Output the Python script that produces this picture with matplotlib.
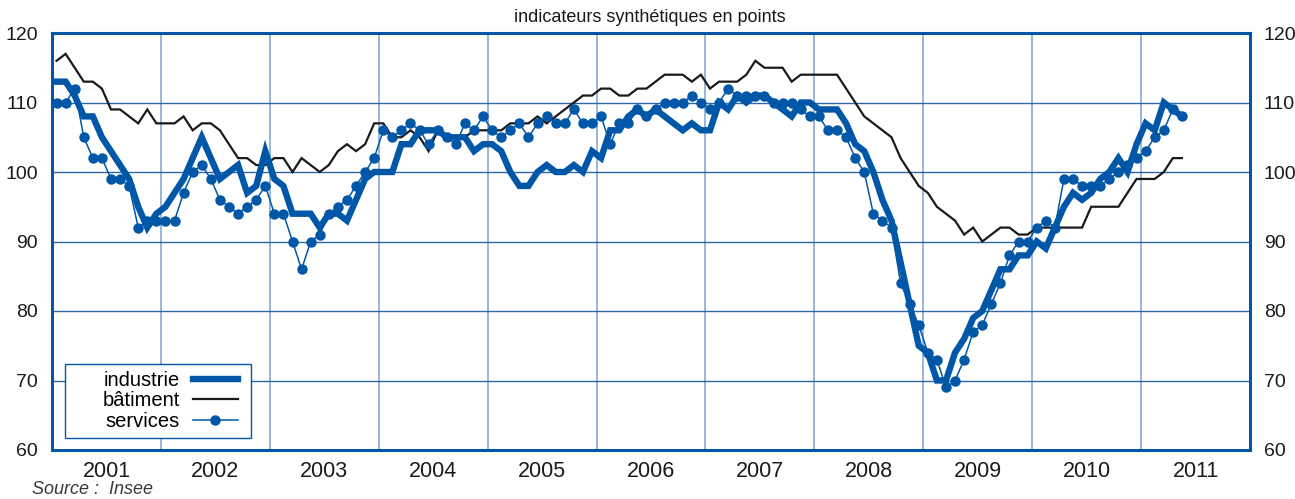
import matplotlib
matplotlib.use("Agg")
import matplotlib.pyplot as plt
import numpy as np
from matplotlib.lines import Line2D
from matplotlib.patches import Rectangle

# ---- data (monthly, Jan 2001 .. May 2011) ----
years = ["2001", "2002", "2003", "2004", "2005", "2006", "2007", "2008", "2009", "2010", "2011"]
y_ticks = [60, 70, 80, 90, 100, 110, 120]

industrie = [113, 113, 111, 108, 108, 105, 103, 101, 99, 95, 92, 94,
             95, 97, 99, 102, 105, 102, 99, 100, 101, 97, 98, 103,
             99, 98, 94, 94, 94, 92, 94, 94, 93, 96, 99, 100,
             100, 100, 104, 104, 106, 106, 106, 105, 105, 105, 103, 104,
             104, 103, 100, 98, 98, 100, 101, 100, 100, 101, 100, 103,
             102, 106, 106, 108, 109, 108, 109, 108, 107, 106, 107, 106,
             106, 110, 109, 111, 110, 111, 111, 110, 109, 108, 110, 110,
             109, 109, 109, 107, 104, 103, 100, 96, 93, 87, 81, 75,
             74, 70, 70, 74, 76, 79, 80, 83, 86, 86, 88, 88,
             90, 89, 92, 95, 97, 96, 97, 99, 100, 102, 100, 104,
             107, 106, 110, 109, 108]

batiment = [116, 117, 115, 113, 113, 112, 109, 109, 108, 107, 109, 107,
            107, 107, 108, 106, 107, 107, 106, 104, 102, 102, 101, 101,
            102, 102, 100, 102, 101, 100, 101, 103, 104, 103, 104, 107,
            107, 105, 105, 106, 105, 103, 106, 105, 105, 105, 106, 106,
            106, 106, 107, 107, 107, 108, 107, 108, 109, 110, 111, 111,
            112, 112, 111, 111, 112, 112, 113, 114, 114, 114, 113, 114,
            112, 113, 113, 113, 114, 116, 115, 115, 115, 113, 114, 114,
            114, 114, 114, 112, 110, 108, 107, 106, 105, 102, 100, 98,
            97, 95, 94, 93, 91, 92, 90, 91, 92, 92, 91, 91,
            92, 92, 92, 92, 92, 92, 95, 95, 95, 95, 97, 99,
            99, 99, 100, 102, 102]

services = [110, 110, 112, 105, 102, 102, 99, 99, 98, 92, 93, 93,
            93, 93, 97, 100, 101, 99, 96, 95, 94, 95, 96, 98,
            94, 94, 90, 86, 90, 91, 94, 95, 96, 98, 100, 102,
            106, 105, 106, 107, 106, 104, 106, 105, 104, 107, 106, 108,
            106, 105, 106, 107, 105, 107, 108, 107, 107, 109, 107, 107,
            108, 104, 107, 107, 109, 108, 109, 110, 110, 110, 111, 110,
            109, 110, 112, 111, 111, 111, 111, 110, 110, 110, 109, 108,
            108, 106, 106, 105, 102, 100, 94, 93, 92, 84, 81, 78,
            74, 73, 69, 70, 73, 77, 78, 81, 84, 88, 90, 90,
            92, 93, 92, 99, 99, 98, 98, 98, 99, 100, 101, 102,
            103, 105, 106, 109, 108]

labels = ["industrie", "bâtiment", "services"]

# ---- styling ----
BLUE = "#0057a8"
GRID_H = "#2f66a8"
GRID_V = "#86a9d4"
plt.rcParams["font.family"] = ["Liberation Sans", "DejaVu Sans"]

W, H = 1295, 499
AX_L, AX_R, AX_T, AX_B = 52, 1250, 33, 450
AW, AH = AX_R - AX_L, AX_B - AX_T
fig = plt.figure(figsize=(W / 100, H / 100), dpi=100)
ax = fig.add_axes([AX_L / W, 1 - AX_B / H, AW / W, AH / H])

x = np.arange(len(industrie))
ax.plot(x, batiment, color="#1a1a1a", lw=1.6, zorder=3, solid_joinstyle="miter")
ax.plot(x, industrie, color=BLUE, lw=4.6, zorder=4, solid_joinstyle="miter")
ax.plot(x, services, color=BLUE, lw=1.1, marker="o", ms=6.5, zorder=5)

n_years = len(years)
ax.set_xlim(-0.5, 12 * n_years - 0.5)
ax.set_ylim(60, 120)

# year boundaries (major, grid) and year labels (minor)
ax.set_xticks([12 * i - 0.5 for i in range(1, n_years)])
ax.set_xticks([12 * i + 5.5 for i in range(n_years)], minor=True)
ax.set_xticklabels([])
ax.set_xticklabels(years, minor=True)
ax.tick_params(axis="x", which="both", length=0)
ax.tick_params(axis="x", which="minor", pad=8, labelsize=15.5, labelcolor="#1a1a1a")
ax.xaxis.grid(True, which="major", color=GRID_V, lw=1.2)

ax.set_yticks(y_ticks)
ax.tick_params(axis="y", length=0, labelsize=14, labelcolor="#1a1a1a",
               labelleft=True, labelright=True, pad=10)
ax.yaxis.grid(True, color=GRID_H, lw=1.0)
ax.set_axisbelow(True)

for s in ax.spines.values():
    s.set_color(BLUE)
    s.set_linewidth(2.2)
    s.set_zorder(6)

# legend frame (drawn separately to get the asymmetric padding of the reference)
ax.add_patch(Rectangle(((65 - AX_L) / AW, (AX_B - 438) / AH), 186 / AW, 74 / AH,
                       transform=ax.transAxes, facecolor="white", edgecolor=BLUE,
                       lw=1.0, zorder=6.5))

handles = [Line2D([], [], color=BLUE, lw=4.6),
           Line2D([], [], color="#1a1a1a", lw=1.6),
           Line2D([], [], color=BLUE, lw=1.1, marker="o", ms=6.5)]
leg = ax.legend(handles, labels, loc="center right",
                bbox_to_anchor=((238 - AX_L) / AW, (AX_B - 401) / AH),
                borderaxespad=0, borderpad=0, markerfirst=False, fontsize=14.5,
                frameon=False, handlelength=2.25, handletextpad=0.65,
                labelspacing=0.08)
leg.set_zorder(7)

fig.text(650 / W, 1 - 18 / H, "indicateurs synthétiques en points", ha="center",
         va="center", fontsize=13, color="#1a1a1a")
fig.text(32 / W, 1 / H, "Source :  Insee", ha="left", va="bottom",
         fontsize=13, style="italic", color="#3a3a3a")

fig.savefig("out.png", dpi=100)
